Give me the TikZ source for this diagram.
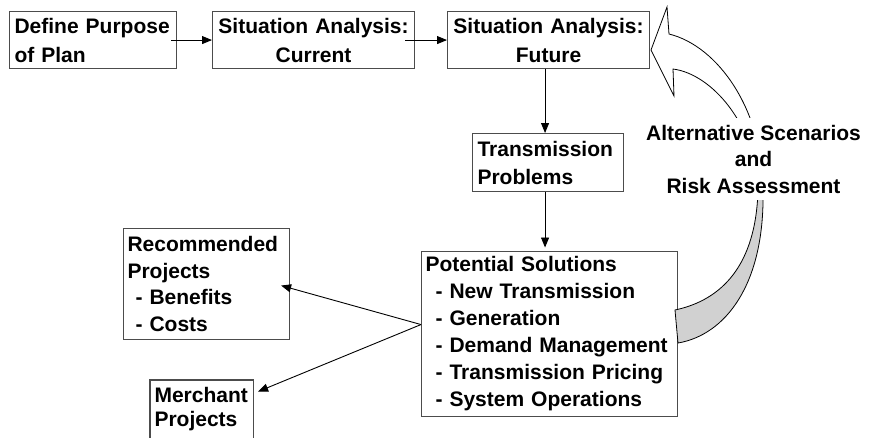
\documentclass[tikz,border=0pt]{standalone}
\usepackage{fontspec}
\setmainfont{Liberation Sans}
\usetikzlibrary{arrows.meta}
\tikzset{
  box/.style={draw=black!70, line width=1.1pt, fill=white, inner ysep=0pt, anchor=north west},
  lead/.style={font=\fontsize{21}{#1}\selectfont\bfseries},
  arr/.style={draw=black, line width=0.9pt, -{Triangle[length=10pt,width=8pt]}},
  curvedge/.style={draw=black, line width=0.8pt},
}
\begin{document}
\begin{tikzpicture}[x=1pt,y=-1pt]
\useasboundingbox (0,0) rectangle (873,437);
\clip (0,0) rectangle (873,437);

% boxes
\node[box, lead=29, inner xsep=5pt, text width=157pt, minimum height=57pt, align=left] (def) at (9,11) {Define Purpose\\of Plan};
\node[box, lead=29, inner xsep=4pt, text width=194pt, minimum height=57pt, align=center] (cur) at (212,11) {Situation Analysis:\\Current};
\node[box, lead=29, inner xsep=4pt, text width=194pt, minimum height=57pt, align=center] (fut) at (447,11) {Situation Analysis:\\Future};
\node[box, lead=28, inner xsep=5pt, text width=141pt, minimum height=58pt, align=left] (tp) at (472,133) {Transmission\\Problems};
\node[box, lead=27, inner xsep=4pt, text width=248pt, minimum height=165pt, align=left] (ps) at (421,251) {Potential Solutions\\\hspace*{10pt}- New Transmission\\\hspace*{10pt}- Generation\\\hspace*{10pt}- Demand Management\\\hspace*{10pt}- Transmission Pricing\\\hspace*{10pt}- System Operations};
\node[box, lead=26.5, inner xsep=4pt, text width=158pt, minimum height=111pt, align=left] (rec) at (123,228) {Recommended\\Projects\\\hspace*{8pt}- Benefits\\\hspace*{8pt}- Costs};
\node[box, draw=none, fill=none, lead=24, inner xsep=4pt, text width=94pt, minimum height=57pt, align=left] (mer) at (150,380) {Merchant\\Projects};
\draw[draw=black!70, line width=1.1pt] ([yshift=-12pt]mer.south west) |- (mer.north east) -- ([yshift=-12pt]mer.south east);

% connectors
\draw[arr] ([xshift=-6pt]def.east) -- (cur.west);
\draw[arr] ([xshift=-10pt]cur.east) -- (fut.west);
\draw[arr] ([xshift=-3pt]tp.north |- fut.south) -- ([xshift=-3pt]tp.north);
\draw[arr, shorten >=3.5pt] ([xshift=-3pt]tp.south) -- ([xshift=-3pt]tp.south |- ps.north);
\coordinate (fork) at ([yshift=9.5pt]ps.west);
\draw[arr] (fork) -- ([xshift=-9pt,yshift=-1.5pt]rec.east);
\draw[arr] (fork) -- ([xshift=5pt,yshift=17.5pt]mer.east);

% curved block arrow
\draw[curvedge, fill=white] (669,34) -- (667,7) -- (651,50) -- (674,96) -- (673,69)
  .. controls (712,74) and (756,125) .. (758,190) -- (763,190)
  .. controls (763,110) and (718,46) .. (669,34) -- cycle;
\draw[curvedge, fill=black!18] (758,190) .. controls (756,265) and (722,300) .. (675,310)
  -- (678,343) .. controls (725,335) and (765,285) .. (763,190) -- cycle;

\node[lead=26.5, align=center, fill=white, inner xsep=2pt, inner ysep=7pt] (alt) at (753.5,159) {Alternative Scenarios\\and\\Risk Assessment};
\end{tikzpicture}
\end{document}
